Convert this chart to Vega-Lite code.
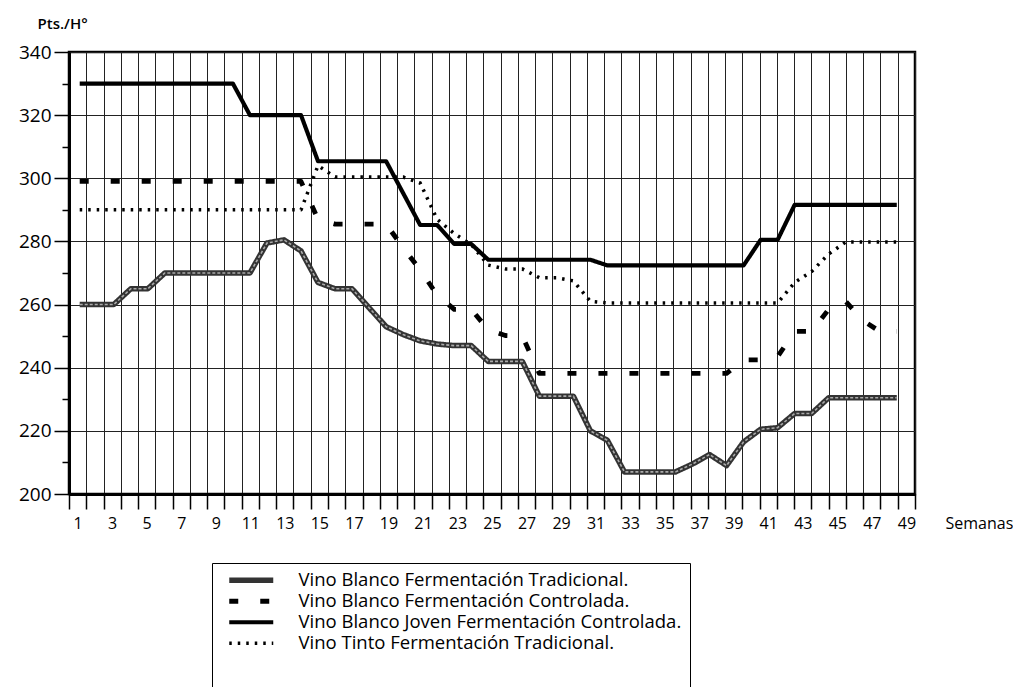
{
  "$schema": "https://vega.github.io/schema/vega-lite/v6.json",
  "width": 846,
  "height": 442,
  "autosize": {"type": "none"},
  "padding": {"left": 69, "top": 52, "right": 98, "bottom": 193},
  "background": "white",
  "config": {
    "view": {"stroke": "#000", "strokeWidth": 2.5},
    "font": "Open Sans",
    "legend": {
      "orient": "none", "legendX": 143, "legendY": 511, "title": null,
      "symbolType": "M0,0H22", "symbolSize": 16,
      "labelFont": "Open Sans", "labelFontSize": 18.5, "labelColor": "#000", "labelOffset": 60, "labelLimit": 700,
      "strokeColor": "#000", "padding": 8, "rowPadding": -10, "gridAlign": "all",
      "titleOrient": "bottom", "titleFontSize": 40, "titlePadding": 0
    }
  },
  "datasets": {
    "series": [
      {"serie": "Vino Blanco Fermentación Tradicional.", "semana": 1, "pts": 260},
      {"serie": "Vino Blanco Fermentación Tradicional.", "semana": 3, "pts": 260},
      {"serie": "Vino Blanco Fermentación Tradicional.", "semana": 4, "pts": 265},
      {"serie": "Vino Blanco Fermentación Tradicional.", "semana": 5, "pts": 265},
      {"serie": "Vino Blanco Fermentación Tradicional.", "semana": 6, "pts": 270},
      {"serie": "Vino Blanco Fermentación Tradicional.", "semana": 11, "pts": 270},
      {"serie": "Vino Blanco Fermentación Tradicional.", "semana": 12, "pts": 279.5},
      {"serie": "Vino Blanco Fermentación Tradicional.", "semana": 13, "pts": 280.5},
      {"serie": "Vino Blanco Fermentación Tradicional.", "semana": 14, "pts": 277},
      {"serie": "Vino Blanco Fermentación Tradicional.", "semana": 15, "pts": 267},
      {"serie": "Vino Blanco Fermentación Tradicional.", "semana": 16, "pts": 265},
      {"serie": "Vino Blanco Fermentación Tradicional.", "semana": 17, "pts": 265},
      {"serie": "Vino Blanco Fermentación Tradicional.", "semana": 18, "pts": 259},
      {"serie": "Vino Blanco Fermentación Tradicional.", "semana": 19, "pts": 253},
      {"serie": "Vino Blanco Fermentación Tradicional.", "semana": 20, "pts": 250.5},
      {"serie": "Vino Blanco Fermentación Tradicional.", "semana": 21, "pts": 248.5},
      {"serie": "Vino Blanco Fermentación Tradicional.", "semana": 22, "pts": 247.5},
      {"serie": "Vino Blanco Fermentación Tradicional.", "semana": 23, "pts": 247},
      {"serie": "Vino Blanco Fermentación Tradicional.", "semana": 24, "pts": 247},
      {"serie": "Vino Blanco Fermentación Tradicional.", "semana": 25, "pts": 242},
      {"serie": "Vino Blanco Fermentación Tradicional.", "semana": 27, "pts": 242},
      {"serie": "Vino Blanco Fermentación Tradicional.", "semana": 28, "pts": 231},
      {"serie": "Vino Blanco Fermentación Tradicional.", "semana": 30, "pts": 231},
      {"serie": "Vino Blanco Fermentación Tradicional.", "semana": 31, "pts": 220},
      {"serie": "Vino Blanco Fermentación Tradicional.", "semana": 32, "pts": 217},
      {"serie": "Vino Blanco Fermentación Tradicional.", "semana": 33, "pts": 207},
      {"serie": "Vino Blanco Fermentación Tradicional.", "semana": 36, "pts": 207},
      {"serie": "Vino Blanco Fermentación Tradicional.", "semana": 37, "pts": 209.5},
      {"serie": "Vino Blanco Fermentación Tradicional.", "semana": 38, "pts": 212.5},
      {"serie": "Vino Blanco Fermentación Tradicional.", "semana": 39, "pts": 209},
      {"serie": "Vino Blanco Fermentación Tradicional.", "semana": 40, "pts": 216.5},
      {"serie": "Vino Blanco Fermentación Tradicional.", "semana": 41, "pts": 220.5},
      {"serie": "Vino Blanco Fermentación Tradicional.", "semana": 42, "pts": 221},
      {"serie": "Vino Blanco Fermentación Tradicional.", "semana": 43, "pts": 225.5},
      {"serie": "Vino Blanco Fermentación Tradicional.", "semana": 44, "pts": 225.5},
      {"serie": "Vino Blanco Fermentación Tradicional.", "semana": 45, "pts": 230.5},
      {"serie": "Vino Blanco Fermentación Tradicional.", "semana": 49, "pts": 230.5},

      {"serie": "Vino Blanco Fermentación Controlada.", "semana": 1, "pts": 299},
      {"serie": "Vino Blanco Fermentación Controlada.", "semana": 14, "pts": 299},
      {"serie": "Vino Blanco Fermentación Controlada.", "semana": 15, "pts": 287},
      {"serie": "Vino Blanco Fermentación Controlada.", "semana": 16, "pts": 285.5},
      {"serie": "Vino Blanco Fermentación Controlada.", "semana": 19, "pts": 285.5},
      {"serie": "Vino Blanco Fermentación Controlada.", "semana": 20, "pts": 278},
      {"serie": "Vino Blanco Fermentación Controlada.", "semana": 21, "pts": 271},
      {"serie": "Vino Blanco Fermentación Controlada.", "semana": 22, "pts": 263},
      {"serie": "Vino Blanco Fermentación Controlada.", "semana": 23, "pts": 258.5},
      {"serie": "Vino Blanco Fermentación Controlada.", "semana": 24, "pts": 258.5},
      {"serie": "Vino Blanco Fermentación Controlada.", "semana": 25, "pts": 252},
      {"serie": "Vino Blanco Fermentación Controlada.", "semana": 26, "pts": 250.2},
      {"serie": "Vino Blanco Fermentación Controlada.", "semana": 27, "pts": 250},
      {"serie": "Vino Blanco Fermentación Controlada.", "semana": 28, "pts": 238.2},
      {"serie": "Vino Blanco Fermentación Controlada.", "semana": 39, "pts": 238.2},
      {"serie": "Vino Blanco Fermentación Controlada.", "semana": 40, "pts": 242.5},
      {"serie": "Vino Blanco Fermentación Controlada.", "semana": 41, "pts": 242.5},
      {"serie": "Vino Blanco Fermentación Controlada.", "semana": 42, "pts": 243.5},
      {"serie": "Vino Blanco Fermentación Controlada.", "semana": 43, "pts": 251.5},
      {"serie": "Vino Blanco Fermentación Controlada.", "semana": 44, "pts": 251.5},
      {"serie": "Vino Blanco Fermentación Controlada.", "semana": 45, "pts": 258.5},
      {"serie": "Vino Blanco Fermentación Controlada.", "semana": 46, "pts": 261},
      {"serie": "Vino Blanco Fermentación Controlada.", "semana": 47, "pts": 255},
      {"serie": "Vino Blanco Fermentación Controlada.", "semana": 48, "pts": 251.5},
      {"serie": "Vino Blanco Fermentación Controlada.", "semana": 49, "pts": 251.5},

      {"serie": "Vino Blanco Joven Fermentación Controlada.", "semana": 1, "pts": 330},
      {"serie": "Vino Blanco Joven Fermentación Controlada.", "semana": 10, "pts": 330},
      {"serie": "Vino Blanco Joven Fermentación Controlada.", "semana": 11, "pts": 320},
      {"serie": "Vino Blanco Joven Fermentación Controlada.", "semana": 14, "pts": 320},
      {"serie": "Vino Blanco Joven Fermentación Controlada.", "semana": 15, "pts": 305.4},
      {"serie": "Vino Blanco Joven Fermentación Controlada.", "semana": 19, "pts": 305.4},
      {"serie": "Vino Blanco Joven Fermentación Controlada.", "semana": 21, "pts": 285.2},
      {"serie": "Vino Blanco Joven Fermentación Controlada.", "semana": 22, "pts": 285.2},
      {"serie": "Vino Blanco Joven Fermentación Controlada.", "semana": 23, "pts": 279.2},
      {"serie": "Vino Blanco Joven Fermentación Controlada.", "semana": 24, "pts": 279.2},
      {"serie": "Vino Blanco Joven Fermentación Controlada.", "semana": 25, "pts": 274.2},
      {"serie": "Vino Blanco Joven Fermentación Controlada.", "semana": 31, "pts": 274.2},
      {"serie": "Vino Blanco Joven Fermentación Controlada.", "semana": 32, "pts": 272.4},
      {"serie": "Vino Blanco Joven Fermentación Controlada.", "semana": 40, "pts": 272.4},
      {"serie": "Vino Blanco Joven Fermentación Controlada.", "semana": 41, "pts": 280.5},
      {"serie": "Vino Blanco Joven Fermentación Controlada.", "semana": 42, "pts": 280.5},
      {"serie": "Vino Blanco Joven Fermentación Controlada.", "semana": 43, "pts": 291.6},
      {"serie": "Vino Blanco Joven Fermentación Controlada.", "semana": 49, "pts": 291.6},

      {"serie": "Vino Tinto Fermentación Tradicional.", "semana": 1, "pts": 290},
      {"serie": "Vino Tinto Fermentación Tradicional.", "semana": 14, "pts": 290},
      {"serie": "Vino Tinto Fermentación Tradicional.", "semana": 15, "pts": 304},
      {"serie": "Vino Tinto Fermentación Tradicional.", "semana": 16, "pts": 300.4},
      {"serie": "Vino Tinto Fermentación Tradicional.", "semana": 20, "pts": 300.4},
      {"serie": "Vino Tinto Fermentación Tradicional.", "semana": 21, "pts": 298.5},
      {"serie": "Vino Tinto Fermentación Tradicional.", "semana": 22, "pts": 287},
      {"serie": "Vino Tinto Fermentación Tradicional.", "semana": 23, "pts": 282.5},
      {"serie": "Vino Tinto Fermentación Tradicional.", "semana": 24, "pts": 279},
      {"serie": "Vino Tinto Fermentación Tradicional.", "semana": 25, "pts": 272.5},
      {"serie": "Vino Tinto Fermentación Tradicional.", "semana": 26, "pts": 271.3},
      {"serie": "Vino Tinto Fermentación Tradicional.", "semana": 27, "pts": 271.3},
      {"serie": "Vino Tinto Fermentación Tradicional.", "semana": 28, "pts": 268.5},
      {"serie": "Vino Tinto Fermentación Tradicional.", "semana": 29, "pts": 268.5},
      {"serie": "Vino Tinto Fermentación Tradicional.", "semana": 30, "pts": 267.5},
      {"serie": "Vino Tinto Fermentación Tradicional.", "semana": 31, "pts": 261},
      {"serie": "Vino Tinto Fermentación Tradicional.", "semana": 32, "pts": 260.5},
      {"serie": "Vino Tinto Fermentación Tradicional.", "semana": 42, "pts": 260.5},
      {"serie": "Vino Tinto Fermentación Tradicional.", "semana": 43, "pts": 267},
      {"serie": "Vino Tinto Fermentación Tradicional.", "semana": 44, "pts": 270.5},
      {"serie": "Vino Tinto Fermentación Tradicional.", "semana": 45, "pts": 276},
      {"serie": "Vino Tinto Fermentación Tradicional.", "semana": 46, "pts": 279.8},
      {"serie": "Vino Tinto Fermentación Tradicional.", "semana": 49, "pts": 279.8}
    ]
  },
  "data": {"name": "series"},
  "encoding": {
    "y": {
      "field": "pts",
      "type": "quantitative",
      "scale": {"domain": [200, 340], "nice": false, "zero": false},
      "axis": {
        "values": [200, 210, 220, 230, 240, 250, 260, 270, 280, 290, 300, 310, 320, 330, 340],
        "labelExpr": "datum.value % 20 === 0 ? '' + datum.value : ''",
        "tickSize": {"condition": {"test": "datum.value % 20 === 0", "value": 15}, "value": 7},
        "tickColor": "#000",
        "tickWidth": 1.5,
        "grid": true,
        "gridColor": "#222",
        "gridWidth": 1,
        "gridOpacity": {"condition": {"test": "datum.value % 20 === 0", "value": 1}, "value": 0},
        "domain": true,
        "domainColor": "#000",
        "domainWidth": 3,
        "labelFont": "Open Sans",
        "labelFontSize": 19,
        "labelColor": "#000",
        "labelPadding": 3,
        "labelOverlap": false,
        "labelFlush": false,
        "title": "Pts./H°",
        "titleAngle": 0,
        "titleX": -32,
        "titleY": -29,
        "titleAlign": "left",
        "titleBaseline": "middle",
        "titleFont": "Open Sans",
        "titleFontSize": 15,
        "titleFontWeight": 600,
        "titleColor": "#000"
      }
    }
  },
  "layer": [
    {
      "mark": {"type": "point", "opacity": 0},
      "encoding": {
        "x": {
          "field": "semana",
          "type": "quantitative",
          "scale": {"domain": [0.5, 49.5], "nice": false, "zero": false},
          "axis": {
            "orient": "bottom",
            "values": [0.5, 1, 1.5, 2.5, 3, 3.5, 4.5, 5, 5.5, 6.5, 7, 7.5, 8.5, 9, 9.5, 10.5, 11, 11.5, 12.5, 13, 13.5, 14.5, 15, 15.5, 16.5, 17, 17.5, 18.5, 19, 19.5, 20.5, 21, 21.5, 22.5, 23, 23.5, 24.5, 25, 25.5, 26.5, 27, 27.5, 28.5, 29, 29.5, 30.5, 31, 31.5, 32.5, 33, 33.5, 34.5, 35, 35.5, 36.5, 37, 37.5, 38.5, 39, 39.5, 40.5, 41, 41.5, 42.5, 43, 43.5, 44.5, 45, 45.5, 46.5, 47, 47.5, 48.5, 49, 49.5],
            "labelExpr": "datum.value % 2 === 1 ? '' + datum.value : ''",
            "tickSize": 15,
            "tickColor": "#000",
            "tickWidth": 1.5,
            "tickOpacity": {"condition": {"test": "datum.value % 1 === 0", "value": 0}, "value": 1},
            "grid": true,
            "gridColor": "#222",
            "gridWidth": 1,
            "gridOpacity": {"condition": {"test": "datum.value % 1 === 0", "value": 0}, "value": 1},
            "domain": true,
            "domainColor": "#000",
            "domainWidth": 3,
            "labelFont": "Open Sans",
            "labelFontSize": 16,
            "labelColor": "#000",
            "labelPadding": 6,
            "labelOverlap": false,
            "labelFlush": false,
            "title": "Semanas",
            "titleX": 876,
            "titleY": 29,
            "titleAlign": "left",
            "titleBaseline": "middle",
            "titleFont": "Open Sans",
            "titleFontSize": 16,
            "titleFontWeight": "normal",
            "titleColor": "#000"
          }
        }
      }
    },
    {
      "mark": {"type": "line", "strokeCap": "butt", "strokeJoin": "round"},
      "encoding": {
        "x": {
          "field": "semana",
          "type": "quantitative",
          "scale": {"domain": [0.371, 50.07], "nice": false, "zero": false},
          "axis": null
        },
        "color": {
          "field": "serie",
          "type": "nominal",
          "scale": {
            "domain": ["Vino Blanco Fermentación Tradicional.", "Vino Blanco Fermentación Controlada.", "Vino Blanco Joven Fermentación Controlada.", "Vino Tinto Fermentación Tradicional."],
            "range": ["#333333", "#000000", "#000000", "#000000"]
          },
          "legend": {"title": "\u00a0"}
        },
        "strokeDash": {
          "field": "serie",
          "type": "nominal",
          "scale": {
            "domain": ["Vino Blanco Fermentación Tradicional.", "Vino Blanco Fermentación Controlada.", "Vino Blanco Joven Fermentación Controlada.", "Vino Tinto Fermentación Tradicional."],
            "range": [[1, 0], [9, 22], [1, 0], [2.5, 6]]
          },
          "legend": {"title": "\u00a0"}
        },
        "strokeWidth": {
          "field": "serie",
          "type": "nominal",
          "scale": {
            "domain": ["Vino Blanco Fermentación Tradicional.", "Vino Blanco Fermentación Controlada.", "Vino Blanco Joven Fermentación Controlada.", "Vino Tinto Fermentación Tradicional."],
            "range": [5.5, 3.5, 2.8, 3]
          },
          "legend": {"title": "\u00a0"}
        }
      }
    },
    {
      "transform": [{"filter": "datum.serie === 'Vino Blanco Fermentación Tradicional.'"}],
      "mark": {"type": "line", "color": "#aaaaaa", "strokeWidth": 1.6, "strokeDash": [3, 2]},
      "encoding": {
        "x": {
          "field": "semana",
          "type": "quantitative",
          "scale": {"domain": [0.371, 50.07], "nice": false, "zero": false},
          "axis": null
        }
      }
    }
  ],
  "resolve": {"scale": {"x": "independent"}}
}
